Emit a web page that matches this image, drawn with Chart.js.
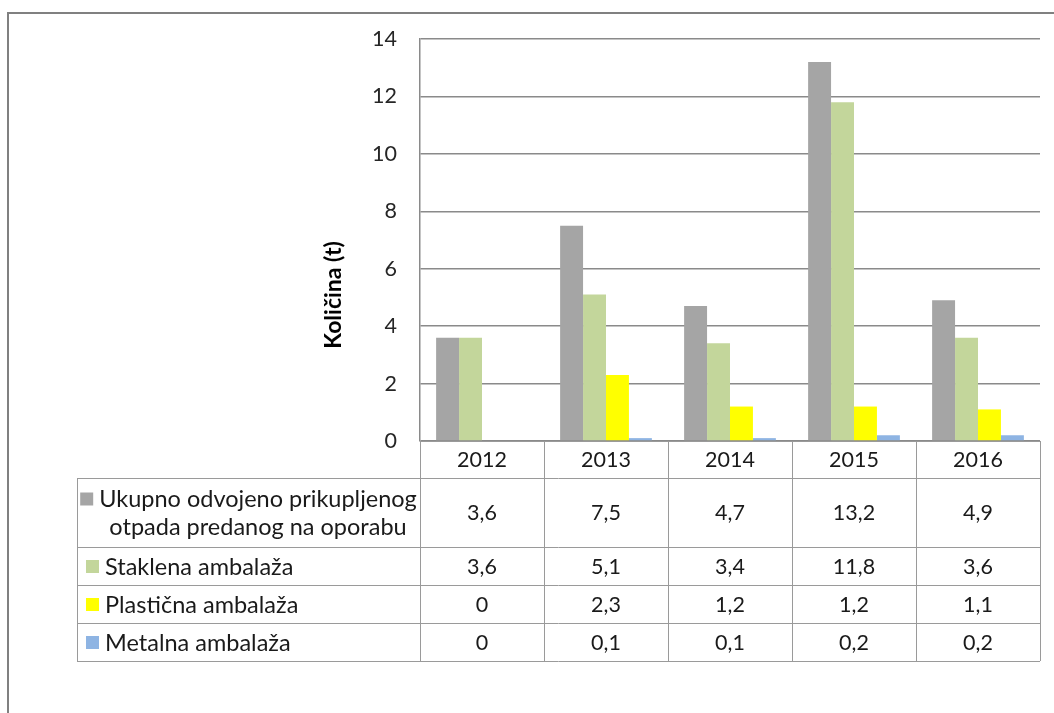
<!DOCTYPE html>
<html>
<head>
<meta charset="utf-8">
<title>Količina (t)</title>
<script src="https://cdn.jsdelivr.net/npm/chart.js@4.4.1/dist/chart.umd.min.js"></script>
<style>
    html, body { margin: 0; padding: 0; background: #fff; }
    #wrap { position: relative; width: 1054px; height: 713px; }
</style>
</head>
<body>
<div id="wrap">
    <canvas id="otpadChart" width="1054" height="713"></canvas>
</div>
<script>
// Chart data
const years = ['2012', '2013', '2014', '2015', '2016'];
const ukupno = [3.6, 7.5, 4.7, 13.2, 4.9];
const staklena = [3.6, 5.1, 3.4, 11.8, 3.6];
const plasticna = [0, 2.3, 1.2, 1.2, 1.1];
const metalna = [0, 0.1, 0.1, 0.2, 0.2];
const yTicks = [0, 2, 4, 6, 8, 10, 12, 14];

const seriesNames = [
    ['Ukupno odvojeno prikupljenog', 'otpada predanog na oporabu'],
    ['Staklena ambalaža'],
    ['Plastična ambalaža'],
    ['Metalna ambalaža']
];
const seriesColors = ['#a5a5a5', '#c3d69b', '#ffff00', '#8eb4e3'];
const seriesValues = [ukupno, staklena, plasticna, metalna];

const FONT = 'Lato, Carlito, Calibri, sans-serif';
const TEXT = '#1a1a1a';
const LINE = '#9a9a9a';

function fmt(v) {
    return String(v).replace('.', ',');
}

// Draws the data table under the plot, the axis title and the outer frame
const dataTablePlugin = {
    id: 'dataTable',
    afterDraw(chart) {
        const ctx = chart.ctx;
        const area = chart.chartArea;
        const x = chart.scales.x;
        const tableLeft = 77;
        const colW = (area.right - area.left) / years.length;
        const rowBottoms = [area.bottom + 37, area.bottom + 106, area.bottom + 144,
            area.bottom + 182, area.bottom + 220];

        ctx.save();

        // frame
        ctx.strokeStyle = '#808080';
        ctx.lineWidth = 2;
        ctx.beginPath();
        ctx.moveTo(8, 713);
        ctx.lineTo(8, 13);
        ctx.lineTo(1054, 13);
        ctx.stroke();

        // table lines
        ctx.strokeStyle = LINE;
        ctx.lineWidth = 1;
        ctx.beginPath();
        ctx.moveTo(area.left, area.bottom + 0.5);
        ctx.lineTo(area.right, area.bottom + 0.5);
        rowBottoms.forEach(function(y) {
            ctx.moveTo(tableLeft, Math.round(y) + 0.5);
            ctx.lineTo(area.right, Math.round(y) + 0.5);
        });
        for (let i = 0; i <= years.length; i++) {
            const cx = Math.round(area.left + i * colW) + 0.5;
            ctx.moveTo(cx, area.bottom);
            ctx.lineTo(cx, rowBottoms[4]);
        }
        ctx.moveTo(tableLeft + 0.5, rowBottoms[0]);
        ctx.lineTo(tableLeft + 0.5, rowBottoms[4]);
        ctx.stroke();

        ctx.font = '21.5px ' + FONT;
        ctx.fillStyle = TEXT;
        ctx.textBaseline = 'middle';
        ctx.textAlign = 'center';

        // year header
        years.forEach(function(yr, i) {
            ctx.fillText(yr, x.getPixelForValue(i), (area.bottom + rowBottoms[0]) / 2 + 1);
        });

        // series rows
        seriesValues.forEach(function(vals, r) {
            const top = rowBottoms[r];
            const bottom = rowBottoms[r + 1];
            const mid = (top + bottom) / 2 + 1;
            ctx.font = '21.5px ' + FONT;
            vals.forEach(function(v, i) {
                ctx.fillStyle = TEXT;
                ctx.textAlign = 'center';
                ctx.fillText(fmt(v), x.getPixelForValue(i), mid);
            });

            ctx.font = '23.5px ' + FONT;
            const lines = seriesNames[r];
            if (lines.length === 1) {
                ctx.fillStyle = seriesColors[r];
                ctx.fillRect(86, mid - 7, 13, 13);
                ctx.fillStyle = TEXT;
                ctx.textAlign = 'left';
                ctx.fillText(lines[0], 105, mid);
            } else {
                const y1 = mid - 14;
                const y2 = mid + 14;
                ctx.fillStyle = TEXT;
                ctx.textAlign = 'center';
                ctx.fillText(lines[0], 258, y1);
                ctx.fillText(lines[1], 258, y2);
                const w = ctx.measureText(lines[0]).width;
                ctx.fillStyle = seriesColors[r];
                ctx.fillRect(258 - w / 2 - 19, y1 - 7, 13, 13);
            }
        });

        // y axis title
        ctx.translate(334, 295);
        ctx.rotate(-Math.PI / 2);
        ctx.font = 'bold 23px ' + FONT;
        ctx.fillStyle = '#000';
        ctx.textAlign = 'center';
        ctx.fillText('Količina (t)', 0, 0);

        ctx.restore();
    }
};

const ctx = document.getElementById('otpadChart');
const chart = new Chart(ctx, {
    type: 'bar',
    data: {
        labels: years,
        datasets: seriesValues.map(function(vals, i) {
            return {
                label: seriesNames[i].join(' '),
                data: vals,
                backgroundColor: seriesColors[i],
                borderWidth: 0,
                categoryPercentage: 0.74,
                barPercentage: 1
            };
        })
    },
    options: {
        responsive: false,
        animation: false,
        layout: {
            padding: { left: 0, right: 14, top: 39, bottom: 272 }
        },
        plugins: {
            legend: { display: false },
            tooltip: { enabled: false }
        },
        scales: {
            x: {
                display: false
            },
            y: {
                min: 0,
                max: 14,
                afterFit: function(scale) {
                    scale.width = 420;
                },
                afterBuildTicks: function(scale) {
                    scale.ticks = yTicks.map(function(v) { return { value: v }; });
                },
                ticks: {
                    padding: 23,
                    color: '#262626',
                    font: { family: FONT, size: 21.5 }
                },
                grid: {
                    color: '#8a8a8a',
                    lineWidth: 1.5,
                    drawTicks: false
                },
                border: {
                    color: '#8a8a8a',
                    width: 1.5
                }
            }
        }
    },
    plugins: [dataTablePlugin]
});
</script>
</body>
</html>
